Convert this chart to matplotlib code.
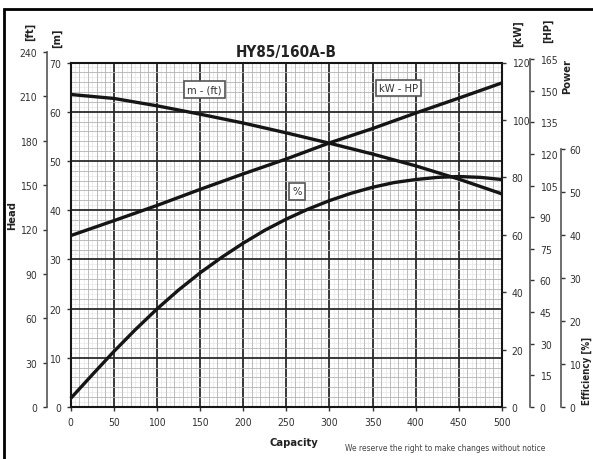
import numpy as np
import matplotlib.pyplot as plt
from matplotlib.ticker import MultipleLocator
from matplotlib.patches import Rectangle

# Curve data (capacity on x)
capacity = [0, 50, 100, 150, 200, 250, 300, 350, 400, 450, 500]
head_m = [63.5, 62.7, 61.2, 59.5, 57.7, 55.7, 53.6, 51.4, 49.0, 46.3, 43.3]
power_kw = [59.7, 64.9, 70.2, 75.8, 81.2, 86.4, 92.0, 97.0, 102.4, 107.6, 112.9]

eff_capacity = [0, 25, 50, 75, 100, 125, 150, 175, 200, 225, 250, 275, 300,
                325, 350, 375, 400, 425, 450, 475, 500]
efficiency = [2.0, 7.5, 12.9, 18.0, 22.8, 27.2, 31.2, 34.8, 38.1, 41.1, 43.7,
              46.0, 48.0, 49.7, 51.1, 52.2, 52.9, 53.4, 53.6, 53.4, 52.9]

# Axis scales
x_ticks = list(range(0, 501, 50))
m_ticks = list(range(0, 71, 10))
ft_ticks = list(range(0, 241, 30))
kw_ticks = list(range(0, 121, 20))
hp_ticks = list(range(0, 166, 15))
eff_ticks = list(range(0, 61, 10))

plt.rcParams['font.family'] = ['DejaVu Sans']
plt.rcParams['font.stretch'] = 'condensed'
W, H = 593, 460
fig = plt.figure(figsize=(W / 100, H / 100), dpi=100)

ink = '#151515'
label_col = '#333333'
tick_size = 7.5


def fx(px):
    return px / W


def fy(py):
    return 1 - py / H


# pixel geometry of the plot
x0, x1 = 70.7, 502
y_bot, y_top = 408, 63.5
main_w = x1 - x0

ax = fig.add_axes([fx(x0), fy(y_bot), main_w / W, (y_bot - y_top) / H])
ax.set_xlim(0, 500)
ax.set_ylim(0, 70)

# three levels of grid
for q in np.arange(0, 501, 5):
    ax.axvline(q, color='#e2e2e2', lw=0.4, zorder=0)
for m in np.arange(0, 71, 1):
    ax.axhline(m, color='#e2e2e2', lw=0.4, zorder=0)
ax.xaxis.set_minor_locator(MultipleLocator(10))
ax.yaxis.set_minor_locator(MultipleLocator(2))
ax.grid(which='minor', color='#b5b5b5', lw=0.6, zorder=1)
ax.grid(which='major', color='#2a2a2a', lw=1.3, zorder=2)
ax.set_axisbelow(True)

ax.set_xticks(x_ticks)
ax.set_yticks(m_ticks)
ax.tick_params(which='minor', length=0)
ax.tick_params(which='major', length=3, width=1, color=label_col,
               labelsize=tick_size, labelcolor=label_col, pad=4)
for s in ax.spines.values():
    s.set_color(ink)
    s.set_linewidth(1.5)

ax.plot(capacity, head_m, color=ink, lw=2.4, solid_capstyle='butt', zorder=5)

# kW axis on the right spine
ax_kw = ax.twinx()
ax_kw.set_ylim(0, 120)
ax_kw.set_yticks(kw_ticks)
ax_kw.tick_params(length=3, width=1, color=label_col, labelsize=tick_size,
                  labelcolor=label_col, pad=4)
for s in ax_kw.spines.values():
    s.set_visible(False)
ax_kw.plot(capacity, power_kw, color=ink, lw=2.4, solid_capstyle='butt', zorder=5)

# efficiency: own scale, same x range
eff_top = 150
ax_eff = fig.add_axes([fx(x0), fy(y_bot), main_w / W, (y_bot - eff_top) / H])
ax_eff.set_xlim(0, 500)
ax_eff.set_ylim(0, 60)
ax_eff.patch.set_visible(False)
ax_eff.set_xticks([])
for k in ['left', 'top', 'bottom']:
    ax_eff.spines[k].set_visible(False)
ax_eff.spines['right'].set_position(('axes', (561 - x0) / main_w))
ax_eff.spines['right'].set_color('#555555')
ax_eff.spines['right'].set_linewidth(1.2)
ax_eff.yaxis.tick_right()
ax_eff.set_yticks(eff_ticks)
ax_eff.tick_params(length=3, width=1, color=label_col, labelsize=tick_size,
                   labelcolor=label_col, pad=3)
ax_eff.plot(eff_capacity, efficiency, color=ink, lw=2.4, solid_capstyle='butt',
            clip_on=False, zorder=5)


def side_axis(px, top_px, lim, ticks, right):
    a = fig.add_axes([fx(px), fy(y_bot), 0.0001, (y_bot - top_px) / H])
    a.set_ylim(0, lim)
    a.patch.set_visible(False)
    a.set_xticks([])
    keep = 'right' if right else 'left'
    for k, s in a.spines.items():
        s.set_visible(k == keep)
    a.spines[keep].set_color('#555555')
    a.spines[keep].set_linewidth(1.2)
    if right:
        a.yaxis.tick_right()
    a.set_yticks(ticks)
    a.tick_params(length=3, width=1, color=label_col, labelsize=tick_size,
                  labelcolor=label_col, pad=4)
    return a


side_axis(47, 53, 240, ft_ticks, right=False)
side_axis(530, 60, 165, hp_ticks, right=True)

# curve tags
box = dict(boxstyle='square,pad=0.3', fc='white', ec='#555555', lw=1.2)
ax.text(155, 64.5, 'm - (ft)', ha='center', va='center', fontsize=8,
        color=label_col, bbox=box, zorder=6)
ax.text(380, 64.8, 'kW - HP', ha='center', va='center', fontsize=8,
        color=label_col, bbox=box, zorder=6)
ax.text(262, 43.8, '%', ha='center', va='center', fontsize=8,
        color=label_col, bbox=box, zorder=6)

# titles and labels
fig.text(fx(286), fy(52), 'HY85/160A-B', ha='center', va='center',
         fontsize=11, fontweight='bold', color='#222222')
fig.text(fx(294), fy(443), 'Capacity', ha='center', va='center',
         fontsize=8, fontweight='bold', color='#222222')
fig.text(fx(445), fy(449), 'We reserve the right to make changes without notice',
         ha='center', va='center', fontsize=6, color='#444444')
rot = dict(rotation=90, ha='center', va='center', fontweight='bold',
           color='#222222', fontsize=8)
fig.text(fx(12), fy(215), 'Head', **rot)
fig.text(fx(30), fy(32), '[ft]', **rot)
fig.text(fx(57), fy(38), '[m]', **rot)
fig.text(fx(518), fy(34), '[kW]', **rot)
fig.text(fx(548), fy(31), '[HP]', **rot)
fig.text(fx(567), fy(77), 'Power', **rot)
fig.text(fx(587), fy(371), 'Efficiency [%]', rotation=90, ha='center',
         va='center', fontweight='bold', color='#222222', fontsize=7)

# outer frame (cropped on right and bottom)
fig.patches.append(Rectangle((fx(4), -0.2), 1.5, fy(10) + 0.2, fill=False,
                             ec='black', lw=2, transform=fig.transFigure))

fig.savefig('out.png', dpi=100)
